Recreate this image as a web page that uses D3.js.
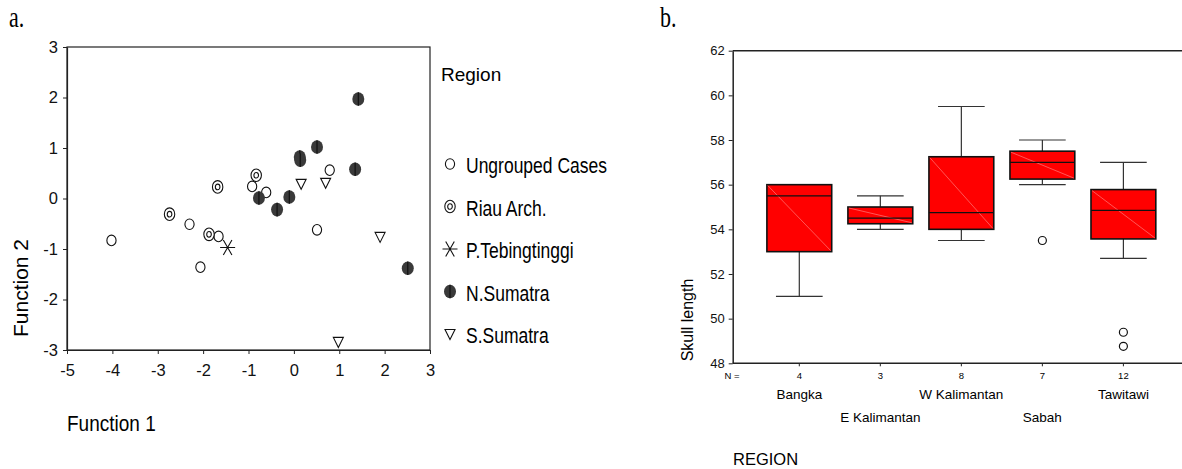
<!DOCTYPE html>
<html>
<head>
<meta charset="utf-8">
<script src="https://cdn.jsdelivr.net/npm/d3@7"></script>
<style>
  body { margin: 0; background: #fff; }
  svg { display: block; font-family: "Liberation Sans", Arial, sans-serif; }
</style>
</head>
<body>
<svg id="chart" width="1182" height="469"></svg>
<script>
// panel a: discriminant function scores per region group
const ungrouped = [[-4.02, -0.83], [-2.30, -0.51], [-1.66, -0.75], [-0.92, 0.24], [-0.61, 0.12], [0.79, 0.56], [0.51, -0.62], [-2.06, -1.36]]
const riau = [[-2.74, -0.31], [-1.68, 0.23], [-0.83, 0.46], [-1.87, -0.71]]
const tebingtinggi = [[-1.46, -0.97]]
const nSumatra = [[1.42, 1.97], [0.51, 1.02], [0.13, 0.82], [0.14, 0.76], [1.35, 0.58], [-0.77, 0.01], [-0.10, 0.03], [-0.37, -0.22], [2.51, -1.38]]
const sSumatra = [[0.16, 0.29], [0.70, 0.31], [1.90, -0.76], [0.98, -2.84]]
const legendNames = ["Ungrouped Cases", "Riau Arch.", "P.Tebingtinggi", "N.Sumatra", "S.Sumatra"]
const xTicksA = [-5, -4, -3, -2, -1, 0, 1, 2, 3]
const yTicksA = [-3, -2, -1, 0, 1, 2, 3]

// panel b: skull length box plots
const boxRegions = ["Bangka", "E Kalimantan", "W Kalimantan", "Sabah", "Tawitawi"]
const boxN = [4, 3, 8, 7, 12]
const boxLow = [51.0, 54.0, 53.5, 56.0, 52.7]
const boxQ1 = [53.0, 54.25, 54.0, 56.25, 53.57]
const boxMedian = [55.5, 54.5, 54.75, 57.0, 54.85]
const boxQ3 = [56.0, 55.0, 57.25, 57.5, 55.78]
const boxHigh = [56.0, 55.5, 59.5, 58.0, 57.0]
const boxOutliers = [[], [], [], [53.5], [49.39, 48.76]]
const yTicksB = [48, 50, 52, 54, 56, 58, 60, 62]

const svg = d3.select("#chart")

// ---------- panel a ----------
const xA = d3.scaleLinear().domain([-5, 3]).range([67, 430])
const yA = d3.scaleLinear().domain([-3, 3]).range([350, 47])

svg.append("text")
   .attr("transform", "translate(9,27) scale(1,1.3)")
   .style("font-family", "'Liberation Serif', 'Times New Roman', serif")
   .style("font-size", "22px")
   .text("a.")

svg.append("rect")
   .attr("x", xA(-5)).attr("y", yA(3))
   .attr("width", xA(3) - xA(-5)).attr("height", yA(-3) - yA(3))
   .attr("fill", "none").attr("stroke", "#222").attr("stroke-width", 1.2)

const axA_y = svg.append("g")
   .attr("transform", "translate(" + xA(-5) + ",0)")
   .call(d3.axisLeft(yA).tickValues(yTicksA).tickSize(4).tickSizeOuter(0).tickPadding(5).tickFormat(d3.format("d")))
const axA_x = svg.append("g")
   .attr("transform", "translate(0," + yA(-3) + ")")
   .call(d3.axisBottom(xA).tickValues(xTicksA).tickSize(4).tickSizeOuter(0).tickPadding(10).tickFormat(d3.format("d")))
;[axA_x, axA_y].forEach(g => {
  g.select(".domain").attr("stroke", "#222").attr("stroke-width", 1.2)
  g.selectAll(".tick line").attr("stroke", "#222")
  g.selectAll("text").style("font-size", "16.5px").attr("fill", "#111")
    .style("font-family", "'Liberation Sans', Arial, sans-serif")
})
axA_x.selectAll("text").text(d => d < 0 ? "-" + (-d) : d)
axA_y.selectAll("text").text(d => d < 0 ? "-" + (-d) : d)

svg.append("text")
   .attr("transform", "translate(28,288) rotate(-90)")
   .attr("text-anchor", "middle")
   .style("font-size", "21px")
   .text("Function 2")

svg.append("text")
   .attr("transform", "translate(67,431) scale(1,1.15)")
   .style("font-size", "19px")
   .text("Function 1")

// marker painters
function openCircle(g) {
  g.append("ellipse").attr("rx", 4.6).attr("ry", 5.3)
   .attr("fill", "#fff").attr("stroke", "#111").attr("stroke-width", 1.1)
}
function ringCircle(g) {
  g.append("ellipse").attr("rx", 5.2).attr("ry", 6.3)
   .attr("fill", "#fff").attr("stroke", "#111").attr("stroke-width", 1.1)
  g.append("ellipse").attr("rx", 2.3).attr("ry", 2.8)
   .attr("fill", "none").attr("stroke", "#111").attr("stroke-width", 1.1)
}
function star(g) {
  g.append("path").attr("d", "M-7.5,0L7.5,0M-4.3,-7.5L4.3,7.5M4.3,-7.5L-4.3,7.5")
   .attr("stroke", "#111").attr("stroke-width", 1.1).attr("fill", "none")
}
function filledCircle(g) {
  g.append("ellipse").attr("rx", 6).attr("ry", 6.8).attr("fill", "#3a3a3a")
  g.append("line").attr("y1", -6.8).attr("y2", 6.8)
   .attr("stroke", "#111").attr("stroke-width", 1.2)
}
function triangle(g) {
  g.append("path").attr("d", "M-5,-4.5L5,-4.5L0,5.5Z")
   .attr("fill", "#fff").attr("stroke", "#111").attr("stroke-width", 1.1)
}
const groups = [
  { pts: ungrouped, draw: openCircle },
  { pts: riau, draw: ringCircle },
  { pts: tebingtinggi, draw: star },
  { pts: nSumatra, draw: filledCircle },
  { pts: sSumatra, draw: triangle }
]

const pointLayer = svg.append("g")
groups.forEach(grp => {
  pointLayer.selectAll(null)
    .data(grp.pts)
    .enter().append("g")
    .attr("transform", d => "translate(" + xA(d[0]) + "," + yA(d[1]) + ")")
    .each(function () { grp.draw(d3.select(this)) })
})

// legend
svg.append("text").attr("x", 441).attr("y", 81)
   .style("font-size", "19px").text("Region")
const legend = svg.append("g")
groups.forEach((grp, i) => {
  const base = 173 + i * 42.5
  const sym = legend.append("g").attr("transform", "translate(450," + (base - 9) + ")")
  grp.draw(sym)
  legend.append("text")
    .attr("transform", "translate(466," + base + ") scale(1,1.3)")
    .style("font-size", "17.5px")
    .text(legendNames[i])
})

// ---------- panel b ----------
const bLeft = 732.7, bTop = 50.7, bBottom = 363.3, bRight = 1182
const yB = d3.scaleLinear().domain([48, 62]).range([bBottom, bTop])
const xB = d3.scaleBand().domain(boxRegions).range([bLeft, 1190])
  .paddingInner(0.2).paddingOuter(0.422)

svg.append("text")
   .attr("transform", "translate(660,27) scale(1,1.3)")
   .style("font-family", "'Liberation Serif', 'Times New Roman', serif")
   .style("font-size", "22px")
   .text("b.")

svg.append("line").attr("x1", bLeft).attr("x2", bRight).attr("y1", bTop).attr("y2", bTop)
   .attr("stroke", "#222").attr("stroke-width", 1.5)

const axB_y = svg.append("g")
   .attr("transform", "translate(" + bLeft + ",0)")
   .call(d3.axisLeft(yB).tickValues(yTicksB).tickSize(4).tickSizeOuter(0).tickPadding(4))
axB_y.select(".domain").attr("stroke", "#222").attr("stroke-width", 1.5)
axB_y.selectAll(".tick line").attr("stroke", "#222")
axB_y.selectAll("text").style("font-size", "13px").attr("fill", "#111")
   .style("font-family", "'Liberation Sans', Arial, sans-serif")

svg.append("line").attr("x1", bLeft).attr("x2", bRight).attr("y1", bBottom).attr("y2", bBottom)
   .attr("stroke", "#222").attr("stroke-width", 1.5)

const cx = d => xB(d) + xB.bandwidth() / 2
const bw = xB.bandwidth()
const capW = bw * 0.72

const boxes = svg.append("g").selectAll("g")
  .data(boxRegions.map((r, i) => ({ r, i })))
  .enter().append("g")

boxes.append("line").attr("x1", d => cx(d.r)).attr("x2", d => cx(d.r))
  .attr("y1", d => yB(boxHigh[d.i])).attr("y2", d => yB(boxLow[d.i]))
  .attr("stroke", "#333").attr("stroke-width", 1.2)
boxes.append("line").attr("x1", d => cx(d.r) - capW / 2).attr("x2", d => cx(d.r) + capW / 2)
  .attr("y1", d => yB(boxHigh[d.i])).attr("y2", d => yB(boxHigh[d.i]))
  .attr("stroke", "#333").attr("stroke-width", 1.2)
boxes.append("line").attr("x1", d => cx(d.r) - capW / 2).attr("x2", d => cx(d.r) + capW / 2)
  .attr("y1", d => yB(boxLow[d.i])).attr("y2", d => yB(boxLow[d.i]))
  .attr("stroke", "#333").attr("stroke-width", 1.2)
boxes.append("rect")
  .attr("x", d => xB(d.r)).attr("width", bw)
  .attr("y", d => yB(boxQ3[d.i])).attr("height", d => yB(boxQ1[d.i]) - yB(boxQ3[d.i]))
  .attr("fill", "#ff0000").attr("stroke", "#111").attr("stroke-width", 1.6)
boxes.append("line")
  .attr("x1", d => xB(d.r) + 1).attr("x2", d => xB(d.r) + bw - 1)
  .attr("y1", d => yB(boxQ3[d.i]) + 1).attr("y2", d => yB(boxQ1[d.i]) - 1)
  .attr("stroke", "#ff9090").attr("stroke-width", 0.6)
boxes.append("line").attr("x1", d => xB(d.r)).attr("x2", d => xB(d.r) + bw)
  .attr("y1", d => yB(boxMedian[d.i])).attr("y2", d => yB(boxMedian[d.i]))
  .attr("stroke", "#111").attr("stroke-width", 1.4)
boxes.each(function (d) {
  d3.select(this).selectAll("circle")
    .data(boxOutliers[d.i])
    .enter().append("circle")
    .attr("cx", cx(d.r)).attr("cy", v => yB(v)).attr("r", 4)
    .attr("fill", "#fff").attr("stroke", "#111").attr("stroke-width", 1.2)
})

// x ticks, N row and staggered category labels
const xLab = svg.append("g")
xLab.selectAll(".tk").data(boxRegions).enter().append("line")
  .attr("x1", cx).attr("x2", cx).attr("y1", bBottom).attr("y2", bBottom + 3)
  .attr("stroke", "#222")
xLab.append("text").attr("x", 732).attr("y", 379).attr("text-anchor", "middle")
  .style("font-size", "9.5px").text("N =")
xLab.selectAll(".n").data(boxRegions).enter().append("text")
  .attr("x", cx).attr("y", 379).attr("text-anchor", "middle")
  .style("font-size", "9.5px").text((d, i) => boxN[i])
xLab.selectAll(".cat").data(boxRegions).enter().append("text")
  .attr("x", cx).attr("y", (d, i) => i % 2 === 0 ? 399 : 422)
  .attr("text-anchor", "middle")
  .style("font-size", "13.5px").text(d => d)

svg.append("text")
   .attr("transform", "translate(693,320) rotate(-90)")
   .attr("text-anchor", "middle")
   .style("font-size", "16px")
   .text("Skull length")

svg.append("text").attr("x", 733).attr("y", 465)
   .style("font-size", "16.5px").text("REGION")
</script>
</body>
</html>
